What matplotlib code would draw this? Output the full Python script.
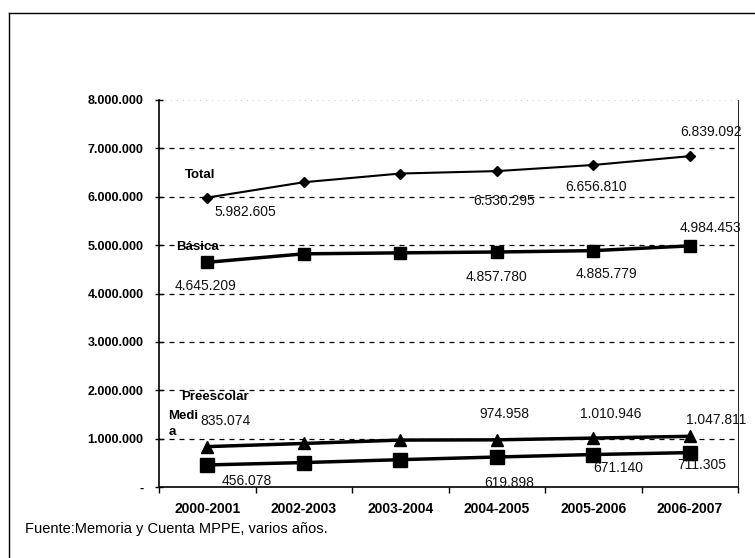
import matplotlib
matplotlib.use('Agg')
import matplotlib.pyplot as plt
from matplotlib.lines import Line2D
from matplotlib.ticker import FuncFormatter

plt.rcParams['font.family'] = ['Liberation Sans', 'DejaVu Sans']

years = ['2000-2001', '2002-2003', '2003-2004', '2004-2005', '2005-2006', '2006-2007']

total = [5982605, 6300000, 6480000, 6530295, 6656810, 6839092]
basica = [4645209, 4820000, 4840000, 4857780, 4885779, 4984453]
preescolar = [835074, 900000, 970000, 974958, 1010946, 1047811]
media = [456078, 505000, 565000, 619898, 671140, 711305]

# which points carry a value label, and where (pixel offsets)
total_labels = {0: (38, -14), 3: (7, -30), 4: (3, -22), 5: (21, 24)}
basica_labels = {0: (-2, -24), 3: (0, -25), 4: (13, -23), 5: (21, 18)}
pre_labels = {0: (18, 26), 3: (8, 26), 4: (17, 24), 5: (26, 16)}
media_labels = {0: (39, -16), 3: (12, -26), 4: (25, -13), 5: (12, -12)}


def fmt(v):
    return '{:,}'.format(int(v)).replace(',', '.')


fig = plt.figure(figsize=(7.55, 5.58), dpi=100)
ax = fig.add_axes([159 / 755, 1 - 487 / 558, (738 - 159) / 755, (487 - 100) / 558])

x = list(range(len(years)))

ax.plot(x, total, color='black', lw=1.5, marker='D', ms=5)
ax.plot(x, basica, color='black', lw=2.5, marker='s', ms=8)
ax.plot(x, preescolar, color='black', lw=2.5, marker='^', ms=8)
ax.plot(x, media, color='black', lw=2.5, marker='s', ms=10)

for series, labels in [(total, total_labels), (basica, basica_labels),
                       (preescolar, pre_labels), (media, media_labels)]:
    for i, off in labels.items():
        ax.annotate(fmt(series[i]), (x[i], series[i]), xytext=off,
                    textcoords='offset pixels', ha='center', va='center',
                    fontsize=10, color='#111111')

# series names
names = [('Total', total, (-22, 23)), ('Básica', basica, (-31, 15)),
         ('Preescolar', preescolar, (-26, 50)), ('Medi\na', media, (-39, 41))]
for name, series, off in names:
    ax.annotate(name, (x[0], series[0]), xytext=off, textcoords='offset pixels',
                ha='left', va='center', fontsize=9.5, fontweight='bold',
                linespacing=1.4)

ax.set_xlim(-0.5, 5.5)
ax.set_ylim(0, 8000000)
ax.set_yticks(range(0, 8000001, 1000000))
ax.yaxis.set_major_formatter(FuncFormatter(lambda v, p: '-' if v == 0 else fmt(v)))
ax.set_xticks(x)
ax.set_xticklabels(years)
ax.set_xticks([i + 0.5 for i in range(-1, 6)], minor=True)
ax.tick_params(axis='x', which='major', length=0, pad=11, labelsize=10)
ax.tick_params(axis='x', which='minor', length=4, direction='out', width=1)
ax.tick_params(axis='y', length=6, direction='inout', width=1, labelsize=9, pad=8)
for lab in ax.get_xticklabels() + ax.get_yticklabels():
    lab.set_fontweight('bold')

for v in range(1000000, 8000000, 1000000):
    ax.axhline(v, color='black', lw=0.9, ls=(0, (4, 4)), zorder=0)
ax.axhline(8000000, color='#bbbbbb', lw=0.6, ls=(0, (1, 6)), zorder=0)

ax.spines['top'].set_visible(False)
ax.spines['right'].set_linewidth(0.6)
ax.spines['left'].set_linewidth(1.2)
ax.spines['bottom'].set_linewidth(1.2)

# outer frame
fig.add_artist(Line2D([9 / 755, 1], [1 - 13 / 558, 1 - 13 / 558], color='black', lw=1))
fig.add_artist(Line2D([9 / 755, 9 / 755], [0, 1 - 13 / 558], color='black', lw=1))

fig.text(25 / 755, 1 - 529 / 558, 'Fuente:Memoria y Cuenta MPPE, varios años.',
         fontsize=10.5, va='center', ha='left')

fig.savefig('out.png', dpi=100)
